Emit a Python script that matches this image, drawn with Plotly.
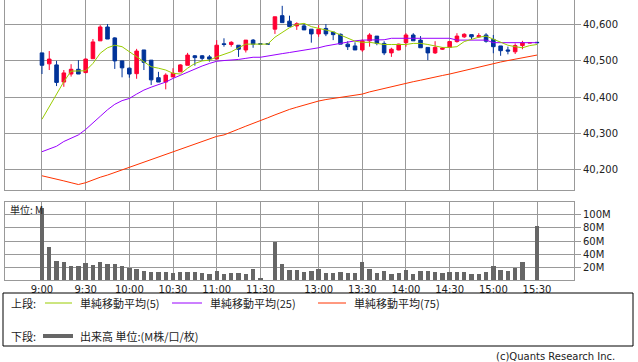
import plotly.graph_objects as go

# ---- data (5-minute bars) ----
times = ["9:00", "9:05", "9:10", "9:15", "9:20", "9:25", "9:30", "9:35", "9:40", "9:45",
         "9:50", "9:55", "10:00", "10:05", "10:10", "10:15", "10:20", "10:25", "10:30", "10:35",
         "10:40", "10:45", "10:50", "10:55", "11:00", "11:05", "11:10", "11:15", "11:20", "11:25",
         "11:30", "12:25", "12:30", "12:35", "12:40", "12:45", "12:50", "12:55", "13:00", "13:05",
         "13:10", "13:15", "13:20", "13:25", "13:30", "13:35", "13:40", "13:45", "13:50", "13:55",
         "14:00", "14:05", "14:10", "14:15", "14:20", "14:25", "14:30", "14:35", "14:40", "14:45",
         "14:50", "14:55", "15:00", "15:05", "15:10", "15:15", "15:20", "15:25", "15:30"]

opens = [40521, 40491, 40488, 40441, 40463, 40476, 40467, 40505, 40554, 40592,
         40562, 40499, 40479, 40464, 40529, 40501, 40453, 40441, 40455, 40469,
         40487, 40513, 40513, 40510, 40504, 40546, 40544, 40542, 40529, 40556,
         40546, 40546, 40586, 40623, 40608, 40595, 40595, 40586, 40573, 40588,
         40578, 40572, 40545, 40540, 40529, 40554, 40567, 40547, 40521, 40529,
         40549, 40570, 40556, 40536, 40521, 40531, 40536, 40552, 40565, 40571,
         40565, 40570, 40558, 40540, 40529, 40524, 40541, 40548, 40550]
highs = [40521, 40526, 40499, 40474, 40490, 40501, 40506, 40559, 40597, 40600,
         40564, 40499, 40481, 40532, 40529, 40501, 40469, 40465, 40479, 40490,
         40521, 40515, 40515, 40515, 40556, 40561, 40553, 40542, 40556, 40559,
         40546, 40546, 40620, 40650, 40623, 40605, 40602, 40586, 40597, 40600,
         40578, 40574, 40553, 40550, 40558, 40575, 40567, 40553, 40535, 40546,
         40575, 40575, 40567, 40536, 40553, 40537, 40553, 40575, 40575, 40571,
         40575, 40575, 40570, 40540, 40538, 40547, 40554, 40549, 40550]
lows = [40463, 40474, 40430, 40428, 40456, 40463, 40465, 40505, 40554, 40559,
        40477, 40454, 40453, 40450, 40474, 40433, 40441, 40421, 40455, 40469,
        40487, 40486, 40499, 40497, 40504, 40538, 40538, 40510, 40522, 40535,
        40545, 40545, 40573, 40604, 40593, 40584, 40584, 40549, 40565, 40567,
        40556, 40545, 40529, 40529, 40524, 40538, 40542, 40515, 40510, 40528,
        40538, 40554, 40535, 40501, 40518, 40529, 40536, 40549, 40562, 40559,
        40562, 40549, 40520, 40513, 40517, 40518, 40531, 40548, 40549]
closes = [40487, 40504, 40440, 40466, 40476, 40463, 40504, 40551, 40592, 40559,
          40499, 40480, 40463, 40526, 40495, 40447, 40441, 40460, 40465, 40488,
          40515, 40508, 40506, 40504, 40542, 40544, 40550, 40531, 40556, 40545,
          40545, 40545, 40620, 40604, 40593, 40601, 40584, 40573, 40586, 40573,
          40571, 40545, 40538, 40529, 40554, 40570, 40547, 40521, 40531, 40545,
          40570, 40554, 40535, 40521, 40536, 40534, 40552, 40567, 40572, 40565,
          40568, 40553, 40538, 40527, 40526, 40541, 40549, 40549, 40549]

ma5 = [40339, 40374, 40410, 40442, 40471, 40471, 40472, 40492, 40520, 40535,
       40542, 40538, 40524, 40510, 40497, 40483, 40479, 40474, 40465, 40463,
       40479, 40492, 40499, 40501, 40510, 40518, 40524, 40535, 40545, 40545,
       40545, 40545, 40564, 40577, 40590, 40599, 40602, 40593, 40588, 40584,
       40579, 40570, 40561, 40553, 40550, 40550, 40547, 40544, 40544, 40544,
       40544, 40547, 40547, 40544, 40541, 40536, 40536, 40538, 40552, 40559,
       40564, 40567, 40559, 40549, 40542, 40538, 40535, 40541, 40544]
ma25 = [40250, 40257, 40265, 40278, 40287, 40296, 40311, 40330, 40347, 40365,
        40380, 40390, 40396, 40408, 40419, 40427, 40434, 40441, 40451, 40460,
        40468, 40477, 40485, 40492, 40498, 40500, 40501, 40503, 40506, 40509,
        40509, 40513, 40516, 40519, 40522, 40525, 40528, 40531, 40535, 40540,
        40544, 40547, 40551, 40554, 40556, 40556, 40556, 40557, 40561, 40561,
        40561, 40561, 40561, 40561, 40561, 40561, 40561, 40556, 40556, 40556,
        40556, 40556, 40549, 40549, 40549, 40549, 40549, 40549, 40549]
ma75 = [40184, 40180, 40175, 40170, 40165, 40160, 40165, 40173, 40180, 40186,
        40193, 40200, 40208, 40215, 40222, 40229, 40236, 40243, 40249, 40255,
        40262, 40269, 40277, 40285, 40292, 40296, 40303, 40312, 40320, 40327,
        40335, 40343, 40351, 40359, 40366, 40372, 40378, 40384, 40389, 40393,
        40396, 40399, 40402, 40404, 40408, 40414, 40419, 40424, 40428, 40432,
        40437, 40442, 40446, 40451, 40455, 40459, 40463, 40468, 40473, 40478,
        40482, 40487, 40492, 40496, 40500, 40504, 40507, 40511, 40515]

volume_m = [110, 51, 30, 28, 22, 22, 27, 23.5, 28, 25,
            25, 22, 19.5, 17.3, 14.3, 12.7, 12.7, 12.7, 11.2, 12.7,
            12.7, 12.7, 11.2, 9.7, 14.3, 9.7, 11.2, 11.2, 9.7, 17.3,
            3.5, 0, 58.7, 25, 15.8, 15.8, 12.7, 14.3, 17.3, 11.2,
            11.2, 12.7, 11.2, 11.2, 28, 17.3, 11.2, 14.3, 9.7, 11.2,
            15.8, 9.7, 14.3, 14.3, 12.7, 11.2, 12.7, 12.7, 12.7, 9.7,
            9.7, 12.7, 22, 15.8, 14.3, 18.8, 28, 0, 83]

x_tick_times = ["9:00", "9:30", "10:00", "10:30", "11:00", "11:30",
                "13:00", "13:30", "14:00", "14:30", "15:00", "15:30"]
price_ticks = [40200, 40300, 40400, 40500, 40600]
price_tick_text = ["40,200", "40,300", "40,400", "40,500", "40,600"]
vol_ticks = [20, 40, 60, 80, 100]
vol_tick_text = ["20M", "40M", "60M", "80M", "100M"]

legend_ma_names = ["単純移動平均(5)", "単純移動平均(25)", "単純移動平均(75)"]

# ---- styling ----
W, H = 638, 362
RED = "#ff0033"
BLUE = "#003399"
C_MA5 = "#99cc00"
C_MA25 = "#9900ff"
C_MA75 = "#ff3300"
GRID = "#999999"
TXT = "#222222"
FONT = "DejaVu Sans"
JFONT = "Noto Sans CJK JP"


def px(x):
    return x / W


def py(y):
    return 1 - y / H


fig = go.Figure()

fig.add_trace(go.Candlestick(
    x=times, open=opens, high=highs, low=lows, close=closes,
    increasing=dict(line=dict(color=RED, width=1), fillcolor=RED),
    decreasing=dict(line=dict(color=BLUE, width=1), fillcolor=BLUE),
    whiskerwidth=0, xaxis="x", yaxis="y", showlegend=False, hoverinfo="skip"))

for ma, col in [(ma75, C_MA75), (ma25, C_MA25), (ma5, C_MA5)]:
    fig.add_trace(go.Scatter(x=times, y=ma, mode="lines",
                             line=dict(color=col, width=1),
                             xaxis="x", yaxis="y", showlegend=False, hoverinfo="skip"))

fig.add_trace(go.Bar(x=times, y=volume_m, marker=dict(color="#666666", line=dict(width=0)),
                     width=0.6, xaxis="x2", yaxis="y2", showlegend=False, hoverinfo="skip"))

xr = [-5.08, 73.08]
common_x = dict(type="category", range=xr, tickvals=x_tick_times, showgrid=True,
                gridcolor=GRID, gridwidth=1, showline=True, mirror=True, linecolor=GRID,
                linewidth=1, zeroline=False, ticks="", fixedrange=True)

fig.update_layout(
    width=W, height=H, margin=dict(l=0, r=0, t=0, b=0),
    paper_bgcolor="white", plot_bgcolor="white",
    font=dict(family=FONT, size=10, color=TXT),
    showlegend=False, bargap=0, hovermode=False,
    xaxis=dict(domain=[px(5), px(574)], anchor="y", showticklabels=False,
               rangeslider=dict(visible=False), **common_x),
    yaxis=dict(domain=[py(190), py(0)], anchor="x", side="right", range=[40145, 40666],
               tickvals=price_ticks, ticktext=price_tick_text, ticks="outside", ticklen=6,
               tickcolor=GRID, showgrid=True, gridcolor=GRID, gridwidth=1, showline=True,
               mirror=True, linecolor=GRID, zeroline=False, fixedrange=True,
               tickfont=dict(family=FONT, size=10, color=TXT)),
    xaxis2=dict(domain=[px(5), px(574)], anchor="y2", showticklabels=True,
                tickfont=dict(family=FONT, size=10, color=TXT), **common_x),
    yaxis2=dict(domain=[py(280.3), py(201.7)], anchor="x2", side="right", range=[0, 120],
                tickvals=vol_ticks, ticktext=vol_tick_text, ticks="outside", ticklen=6,
                tickcolor=GRID, showgrid=True, gridcolor=GRID, gridwidth=1, showline=True,
                mirror=True, linecolor=GRID, zeroline=False, fixedrange=True,
                tickfont=dict(family=FONT, size=10, color=TXT)),
)

shapes = [dict(type="rect", xref="paper", yref="paper", x0=px(3), x1=px(633),
               y0=py(346), y1=py(293), line=dict(color="#000000", width=1))]
annots = []


def text(x, y, s, anchor="left", size=11, family=JFONT):
    annots.append(dict(x=px(x), y=py(y), xref="paper", yref="paper", text=s,
                       showarrow=False, xanchor=anchor, yanchor="middle",
                       font=dict(family=family, size=size, color=TXT)))


row1 = 303
text(9, row1, "上段:")
for (x0, x1, tx), col, name in zip([(45, 72, 78), (172, 202, 208), (318, 346, 352)],
                                    [C_MA5, C_MA25, C_MA75], legend_ma_names):
    shapes.append(dict(type="line", xref="paper", yref="paper", x0=px(x0), x1=px(x1),
                       y0=py(row1), y1=py(row1), line=dict(color=col, width=1)))
    text(tx, row1, name)

row2 = 336
text(9, row2, "下段:")
shapes.append(dict(type="line", xref="paper", yref="paper", x0=px(43), x1=px(73),
                   y0=py(row2), y1=py(row2), line=dict(color="#666666", width=4)))
text(78, row2, "出来高 単位:(M株/口/枚)")

text(8, 209, "単位: M", size=10)
text(617, 356, "(c)Quants Research Inc.", anchor="right", size=10, family=FONT)

fig.update_layout(shapes=shapes, annotations=annots)

fig.write_html("out.html", config={"displayModeBar": False, "staticPlot": True},
               post_script="document.body.style.margin='0';document.body.style.overflow='hidden';")
